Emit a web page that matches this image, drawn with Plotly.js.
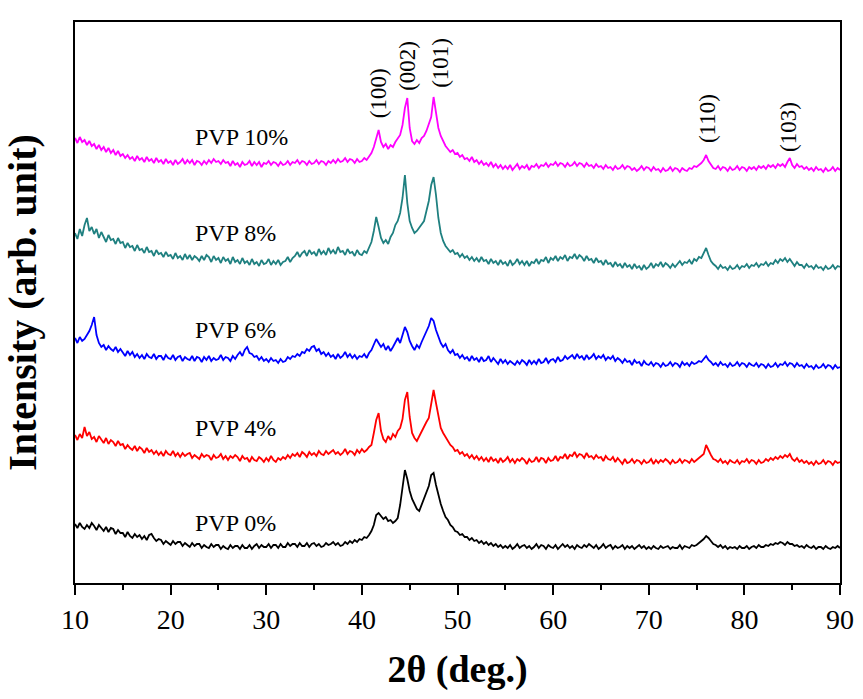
<!DOCTYPE html>
<html>
<head>
<meta charset="utf-8">
<script src="https://cdn.plot.ly/plotly-3.0.1.min.js"></script>
<style>
html,body{margin:0;padding:0;background:#fff;}
#chart{width:863px;height:699px;}
</style>
</head>
<body>
<div id="chart"></div>
<script>
// 2θ sampling of the patterns (start, step in degrees)
const twoThetaStart = 10;
const twoThetaStep = 0.25;

const seriesNames = ["PVP 0%", "PVP 4%", "PVP 6%", "PVP 8%", "PVP 10%"];
const seriesColors = ["#000000", "#FF0000", "#0000FF", "#1F8080", "#FF00FF"];

// Stacked intensities (arb. unit), one value per 0.25° from 10° to 90°
const pvp0 = [
59,55,60,56, 54,58,55,60, 57,53,58,55, 52,56,51,55, 54,49,53,50,
50,46,51,47, 45,49,46,48, 44,47,43,48, 49,45,42,44, 43,39,42,40,
38,42,39,41, 41,37,40,38, 36,40,37,39, 39,35,38,36, 35,39,36,38,
38,34,37,35, 34,38,35,37, 37,34,38,35, 35,38,34,37, 39,35,38,36,
36,39,35,38, 38,35,39,36, 36,40,37,39, 39,36,40,37, 37,40,36,39,
40,37,39,36, 37,40,38,39, 41,38,40,37, 38,41,39,42, 40,43,41,44,
43,46,45,48, 52,58,68,70, 67,64,66,62, 63,60,62,65, 78,96,113,104,
92,84,78,74, 72,78,84,90, 97,108,110,98, 88,79,72,66, 63,58,56,52,
51,48,49,46, 46,43,45,42, 43,40,42,39, 41,38,40,37, 39,36,38,35,
37,35,38,34, 36,39,35,37, 38,35,37,34, 36,39,35,38, 37,34,38,36,
35,38,34,37, 39,36,38,35, 37,34,38,36, 35,38,36,39, 37,35,38,34,
36,39,35,37, 38,34,37,35, 36,38,34,37, 35,37,34,36, 38,35,37,34,
36,34,37,35, 34,37,35,36, 37,34,36,35, 35,38,34,37, 36,35,38,37,
38,40,42,44, 47,45,42,39, 38,36,38,35, 37,34,36,35, 36,34,37,35,
35,37,34,36, 37,35,38,36, 36,38,37,39, 38,40,39,41, 40,38,41,39,
39,37,38,36, 37,35,38,36, 35,37,34,36, 36,34,37,35, 34,36,35,37,
35];

const pvp4 = [
148,143,149,145, 156,147,151,144, 146,141,147,143, 140,145,139,143, 141,137,142,138,
139,134,138,135, 133,137,132,136, 134,130,135,131, 133,129,132,128, 131,127,132,129,
128,132,127,130, 126,130,127,129, 130,125,128,126, 124,129,126,128, 127,123,128,125,
126,129,124,127, 123,127,125,128, 126,122,127,124, 125,121,126,123, 122,126,124,121,
125,122,127,123, 121,125,123,126, 124,128,125,129, 127,130,126,131, 129,126,131,128,
130,127,132,129, 128,132,129,131, 133,129,131,128, 130,134,129,132, 131,128,133,130,
134,131,133,136, 138,150,163,170, 152,144,141,147, 143,149,146,152, 155,164,183,191,
166,150,145,142, 147,151,156,161, 165,178,193,180, 166,155,150,146, 141,138,136,132,
133,129,131,127, 129,125,128,124, 127,123,126,122, 125,121,126,122, 124,120,125,121,
123,126,121,124, 120,124,122,125, 123,119,124,121, 122,126,121,125, 124,120,125,122,
123,127,122,126, 125,129,124,128, 127,131,126,129, 128,125,130,126, 127,124,128,125,
126,122,127,124, 123,126,121,125, 122,119,124,120, 121,124,120,123, 122,119,123,120,
121,124,119,123, 120,123,121,124, 122,119,123,120, 121,124,120,123, 122,120,124,121,
123,125,127,129, 138,132,128,124, 123,121,124,120, 122,119,123,121, 120,123,119,122,
121,124,120,123, 122,119,123,120, 121,124,122,125, 123,126,124,127, 125,128,126,129,
124,122,125,121, 123,120,122,119, 121,118,122,119, 120,123,119,122, 121,118,122,120,
121];

const pvp6 = [
245,240,246,242, 244,248,252,258, 266,248,240,236, 238,233,237,234, 232,236,231,234,
230,227,232,228, 231,226,229,225, 228,224,229,226, 225,229,224,227, 227,223,228,225,
224,228,223,226, 227,222,226,224, 223,227,222,226, 225,221,226,223, 227,222,225,223,
224,228,223,226, 225,222,227,224, 228,231,227,233, 236,230,229,226, 227,223,226,222,
224,221,225,222, 223,220,224,221, 222,226,224,227, 226,229,227,231, 230,234,232,236,
237,232,234,229, 231,227,230,226, 228,224,229,225, 227,231,226,229, 225,228,224,227,
226,229,225,230, 233,238,244,240, 236,239,233,237, 232,236,241,245, 240,247,256,251,
242,237,233,238, 235,241,246,252, 257,265,262,253, 246,240,236,239, 233,230,233,228,
229,225,228,224, 226,222,227,223, 225,221,226,222, 223,227,221,225, 222,219,224,220,
223,219,222,220, 218,222,219,223, 221,218,223,219, 222,219,224,220, 221,225,220,223,
224,221,226,222, 223,227,224,226, 228,224,229,225, 227,223,228,224, 226,229,224,227,
225,228,223,226, 224,227,222,225, 223,220,224,221, 222,218,223,220, 221,217,222,219,
218,221,217,220, 219,216,220,217, 218,221,217,220, 219,216,221,218, 220,217,221,219,
220,222,221,224, 227,223,221,218, 220,217,221,218, 219,216,220,217, 218,221,217,220,
219,216,220,218, 217,220,216,219, 218,215,219,216, 217,220,216,219, 218,221,217,220,
219,216,220,217, 218,215,219,216, 217,214,218,215, 216,219,215,218, 217,214,218,215,
216];

const pvp8 = [
350,344,354,347, 358,365,352,356, 349,354,345,351, 346,341,348,343, 344,339,345,340,
341,335,340,336, 337,332,338,333, 334,330,336,331, 332,327,333,329, 330,326,331,327,
328,324,330,325, 327,323,329,324, 328,323,327,325, 322,327,323,328, 326,321,327,323,
325,320,326,322, 324,319,326,321, 323,319,325,320, 322,318,324,319, 321,317,323,319,
320,324,318,322, 319,323,318,321, 322,326,321,325, 327,331,326,330, 332,327,333,329,
331,327,334,329, 332,328,335,330, 333,329,336,331, 332,328,334,330, 331,327,333,329,
328,332,330,336, 341,352,366,356, 345,340,343,339, 346,350,358,362, 370,385,408,380,
362,355,350,352, 355,358,362,372, 382,398,406,388, 365,350,342,337, 334,331,333,329,
330,326,329,325, 327,323,326,322, 325,321,326,322, 323,319,324,320, 322,318,323,319,
321,317,323,318, 320,324,319,322, 318,322,317,321, 320,324,319,323, 322,326,320,325,
323,327,322,326, 324,328,322,326, 325,329,324,328, 326,322,327,323, 324,320,325,321,
322,318,323,319, 320,316,321,317, 319,315,320,316, 318,314,319,315, 317,313,318,314,
316,320,315,319, 317,321,316,320, 318,315,319,316, 319,322,318,321, 320,323,319,324,
322,326,325,330, 335,328,322,319, 317,314,318,315, 316,313,317,314, 315,318,314,317,
316,319,315,318, 317,320,316,319, 318,321,317,320, 319,323,320,324, 322,325,321,324,
320,317,321,318, 318,315,319,316, 317,314,318,315, 316,313,317,314, 315,318,314,317,
316];

const pvp10 = [
445,440,446,441, 443,438,442,437, 439,434,438,433, 436,431,435,430, 433,428,432,427,
429,425,428,424, 426,422,427,423, 425,421,426,422, 424,420,425,421, 423,419,424,420,
422,418,423,419, 421,424,419,423, 420,423,418,422, 421,418,422,419, 423,420,424,421,
422,419,423,420, 421,417,422,418, 420,416,421,418, 419,422,417,421, 418,421,416,420,
419,422,418,421, 420,417,421,418, 419,422,418,421, 420,423,419,422, 421,418,422,419,
420,423,419,422, 421,418,422,420, 423,420,424,421, 422,425,421,424, 423,420,424,421,
422,425,423,427, 430,436,446,453, 441,436,439,434, 438,436,441,444, 448,458,475,485,
455,442,439,443, 440,445,447,452, 458,466,486,470, 455,447,441,437, 434,431,433,429,
430,426,428,424, 425,422,426,421, 423,419,422,418, 420,417,421,416, 419,415,418,414,
417,414,418,413, 416,419,414,417, 415,418,413,417, 416,419,415,418, 417,420,416,419,
418,421,417,420, 419,416,420,417, 418,421,417,420, 419,416,420,417, 418,415,419,416,
417,414,418,415, 416,413,417,414, 415,418,414,417, 416,413,415,412, 414,417,413,416,
415,412,416,413, 414,411,415,412, 413,416,412,415, 414,411,415,413, 412,415,414,417,
416,418,420,423, 428,422,418,415, 414,417,413,416, 415,412,416,413, 414,417,413,416,
415,412,416,414, 416,413,417,415, 417,414,418,416, 418,415,419,417, 419,416,421,425,
418,415,419,416, 417,414,416,413, 415,412,416,413, 414,411,415,412, 413,416,412,415,
413];

const seriesValues = [pvp0, pvp4, pvp6, pvp8, pvp10];

// label anchor heights for the series names (arb. unit) and 2θ position
const labelTwoTheta = 22.3;
const labelHeights = [60, 155, 253, 350, 446];

// Miller indices of reflections
const peakLabels = ["(100)", "(002)", "(101)", "(110)", "(103)"];
const peakTwoTheta = [41.7, 44.7, 48.15, 76.1, 84.55];
const peakLabelHeights = [490, 517, 520, 464, 456];

const xTickVals = [10, 20, 30, 40, 50, 60, 70, 80, 90];

const serif = "'Liberation Serif', 'Times New Roman', Times, serif";

const traces = seriesValues.map((vals, k) => ({
  type: "scatter",
  mode: "lines",
  name: seriesNames[k],
  x: vals.map((_, i) => twoThetaStart + i * twoThetaStep),
  y: vals,
  line: {color: seriesColors[k], width: 1.8},
  hoverinfo: "skip"
}));

const annotations = [];
seriesNames.forEach((n, k) => {
  annotations.push({
    x: labelTwoTheta, y: labelHeights[k], xref: "x", yref: "y",
    text: n, showarrow: false, xanchor: "left", yanchor: "middle",
    font: {family: serif, size: 24, color: "#000"}
  });
});
peakLabels.forEach((t, k) => {
  annotations.push({
    x: peakTwoTheta[k], y: peakLabelHeights[k], xref: "x", yref: "y",
    text: t, showarrow: false, textangle: -90,
    xanchor: "center", yanchor: "middle",
    font: {family: serif, size: 23, color: "#000"}
  });
});

const layout = {
  width: 863, height: 699,
  margin: {l: 75, r: 23, t: 22, b: 116},
  paper_bgcolor: "#fff", plot_bgcolor: "#fff",
  showlegend: false,
  xaxis: {
    range: [10, 90],
    tickvals: xTickVals,
    ticktext: xTickVals.map(String),
    ticks: "outside", ticklen: 10, tickwidth: 2, tickcolor: "#000",
    minor: {dtick: 5, tick0: 5, ticks: "outside", ticklen: 5, tickwidth: 2, tickcolor: "#000", showgrid: false},
    showline: true, linecolor: "#000", linewidth: 2, mirror: true,
    showgrid: false, zeroline: false,
    tickfont: {family: serif, size: 28, color: "#000"},
    title: {text: "<b>2θ (deg.)</b>", font: {family: serif, size: 38, color: "#000"}, standoff: 22}
  },
  yaxis: {
    range: [0, 561],
    showticklabels: false, ticks: "",
    showline: true, linecolor: "#000", linewidth: 2, mirror: true,
    showgrid: false, zeroline: false,
    title: {text: "<b>Intensity (arb. unit)</b>", font: {family: serif, size: 40, color: "#000"}, standoff: 26}
  },
  annotations: annotations
};

Plotly.newPlot("chart", traces, layout, {displayModeBar: false, staticPlot: true});
</script>
</body>
</html>
